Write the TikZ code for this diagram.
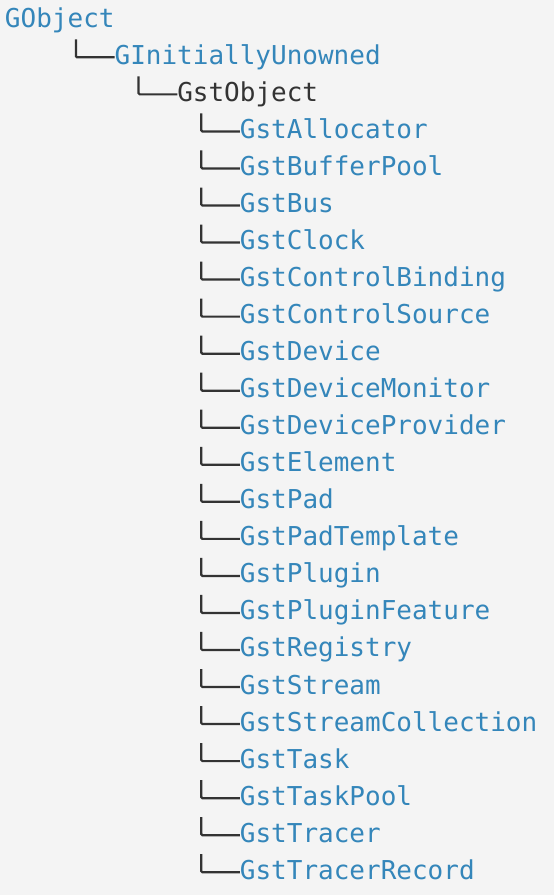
\documentclass[tikz,border=0pt]{standalone}
\usepackage{fontspec}
\setmonofont{DejaVu Sans Mono}
\definecolor{clsblue}{RGB}{52,134,186}
\definecolor{ink}{RGB}{51,51,51}
\definecolor{bg}{RGB}{244,244,244}
\begin{document}
\begin{tikzpicture}[x=1pt,y=-1pt,
  cls/.style={anchor=base west,inner sep=0pt,outer sep=0pt,font=\ttfamily\fontsize{26}{26}\selectfont,text=clsblue},
  plain/.style={cls,text=ink},
  tree/.style={draw=ink,line width=2.2pt,rounded corners=1.2pt}]
\fill[bg] (0,0) rectangle (554,895);
\useasboundingbox (0,0) rectangle (554,895);
\node[cls] (n0) at (5,27.3) {GObject};
\node[cls] (n1) at (5+7*15.66,64.34) {GInitiallyUnowned};
\coordinate (t1) at (5+4*15.66+8.3,64.34-25);
\draw[tree] (t1) |- ([yshift=7pt]n1.base west);
\node[plain] (n2) at (5+11*15.66,101.38) {GstObject};
\coordinate (t2) at (5+8*15.66+8.3,101.38-25);
\draw[tree] (t2) |- ([yshift=7pt]n2.base west);
\foreach \name [count=\i from 3] in {GstAllocator,GstBufferPool,GstBus,GstClock,GstControlBinding,GstControlSource,GstDevice,GstDeviceMonitor,GstDeviceProvider,GstElement,GstPad,GstPadTemplate,GstPlugin,GstPluginFeature,GstRegistry,GstStream,GstStreamCollection,GstTask,GstTaskPool,GstTracer,GstTracerRecord}{
  \pgfmathsetmacro\by{27.3+37.04*\i}
  \node[cls] (n\i) at (5+15*15.66,\by) {\name};
  \coordinate (t\i) at (5+12*15.66+8.3,\by-25);
  \draw[tree] (t\i) |- ([yshift=7pt]n\i.base west);
}
\end{tikzpicture}
\end{document}
